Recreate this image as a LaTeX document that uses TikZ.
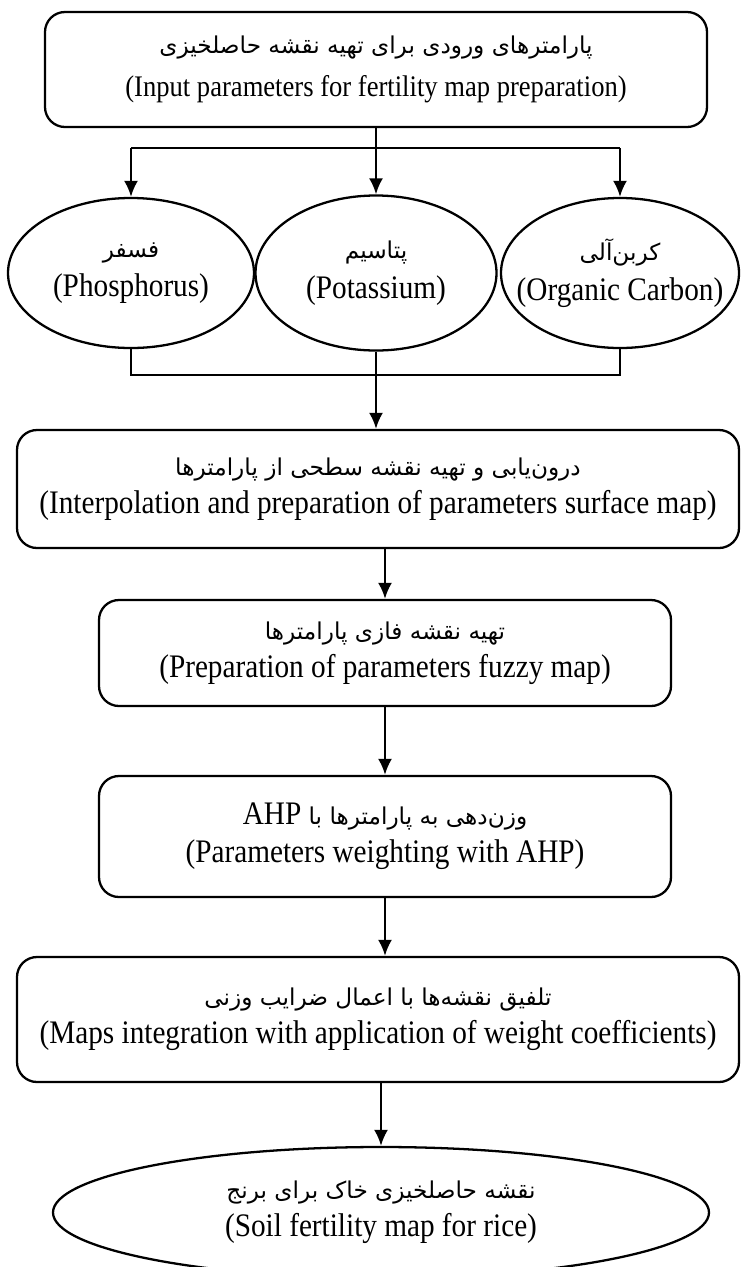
\documentclass[tikz,border=0pt]{standalone}
\usepackage{fontspec}
\setmainfont[FakeStretch=0.89]{Liberation Serif}
\newfontfamily\persianfont[Script=Arabic]{DejaVu Sans}
\TeXXeTstate=1
\usetikzlibrary{shapes.geometric,arrows.meta}

\newcommand{\fatxt}[1]{{\persianfont\fontsize{13.2}{15}\selectfont\beginR #1\endR}}

\tikzset{
  stepbox/.style={draw, rounded corners=0.4cm, line width=1.3pt, align=center, inner sep=0pt},
  oval/.style={draw, ellipse, line width=1.3pt, align=center, inner xsep=-1cm, inner ysep=0pt},
  link/.style={line width=1.3pt},
  flow/.style={line width=1.3pt, -{Latex[length=0.32cm,width=0.28cm]}},
}

\begin{document}
\begin{tikzpicture}[font=\fontsize{18.7}{21.5}\selectfont]
  \useasboundingbox (0,0) rectangle (14.8,-25.34);
  \node[stepbox, minimum width=13.24cm, minimum height=2.30cm, font=\fontsize{17}{21.5}\selectfont] (input) at (7.52,-1.39)
    {\fatxt{پارامترهای ورودی برای تهیه نقشه حاصلخیزی}\\[3pt](Input parameters for fertility map preparation)};
  \node[oval, minimum width=4.92cm, minimum height=3.0cm] (phos) at (2.62,-5.46)
    {\fatxt{فسفر}\\[1pt](Phosphorus)};
  \node[oval, minimum width=4.82cm, minimum height=3.1cm] (pot) at (7.52,-5.46)
    {\fatxt{پتاسیم}\\[1pt](Potassium)};
  \node[oval, minimum width=4.76cm, minimum height=3.0cm] (carb) at (12.40,-5.46)
    {\fatxt{کربن‌آلی}\\[1pt](Organic Carbon)};
  \node[stepbox, minimum width=14.44cm, minimum height=2.36cm] (interp) at (7.56,-9.78)
    {\fatxt{درون‌یابی و تهیه نقشه سطحی از پارامترها}\\(Interpolation and preparation of parameters surface map)};
  \node[stepbox, minimum width=11.44cm, minimum height=2.12cm] (fuzzy) at (7.70,-13.06)
    {\fatxt{تهیه نقشه فازی پارامترها}\\(Preparation of parameters fuzzy map)};
  \node[stepbox, minimum width=11.44cm, minimum height=2.42cm] (ahp) at (7.70,-16.73)
    {{\persianfont\fontsize{13.2}{15}\selectfont\beginR وزن‌دهی به پارامترها با {\rmfamily\fontsize{18.7}{15}\selectfont\beginL AHP\endL}\endR}\\(Parameters weighting with AHP)};
  \node[stepbox, minimum width=14.44cm, minimum height=2.50cm] (integ) at (7.56,-20.39)
    {\fatxt{تلفیق نقشه‌ها با اعمال ضرایب وزنی}\\(Maps integration with application of weight coefficients)};
  \node[oval, minimum width=13.12cm, minimum height=2.62cm] (fmap) at (7.62,-24.25)
    {\fatxt{نقشه حاصلخیزی خاک برای برنج}\\(Soil fertility map for rice)};

  % split to the three parameters
  \coordinate (split) at (7.52,-2.96);
  \draw[link] (input.south) -- (split);
  \draw[link] (split -| phos) -- (split -| carb);
  \draw[flow] (split -| phos) -- (phos.north);
  \draw[flow] (split) -- (pot.north);
  \draw[flow] (split -| carb) -- (carb.north);

  % join back
  \coordinate (join) at (7.52,-7.50);
  \draw[link] (phos.south) -- (phos.south |- join) -- (carb.south |- join) -- (carb.south);
  \draw[flow] (pot.south) -- (pot.south |- interp.north);

  \draw[flow] (fuzzy.north |- interp.south) -- (fuzzy.north);
  \draw[flow] (fuzzy.south) -- (ahp.north);
  \draw[flow] (ahp.south) -- (ahp.south |- integ.north);
  \draw[flow] (fmap.north |- integ.south) -- (fmap.north);
\end{tikzpicture}
\end{document}
